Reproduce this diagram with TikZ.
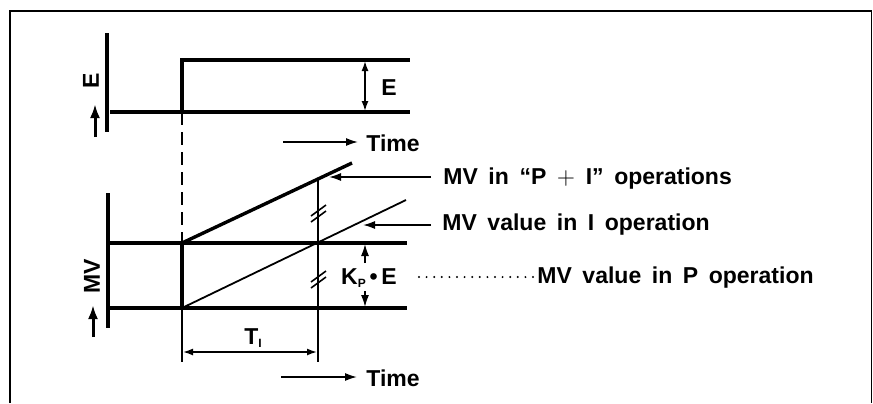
\documentclass[tikz,border=0pt]{standalone}
\usepackage{fontspec}
\setmainfont{Liberation Sans}
\usetikzlibrary{arrows.meta}

\newcommand{\tinysub}[1]{\raisebox{-0.3ex}{\fontsize{6}{6}\selectfont #1}}

\begin{document}
\begin{tikzpicture}[
  x=0.5pt, y=-0.5pt,
  font=\bfseries\fontsize{11.5}{13}\selectfont,
  frame/.style={line width=1.4pt},
  thinline/.style={line width=0.9pt},
  thickline/.style={line width=1.7pt},
  arrow/.style={-{Latex[length=6pt,width=4pt]}, line width=0.8pt},
  uparrow/.style={-{Latex[length=7pt,width=5pt]}, line width=1.5pt},
  dim/.style={{Latex[length=5pt,width=3.5pt]}-{Latex[length=5pt,width=3.5pt]}, line width=0.8pt},
  brk/.style={line width=0.8pt},
  lbl/.style={anchor=west, inner sep=0pt, execute at begin node={\spaceskip=0.46em\relax}}
]
\useasboundingbox (0,0) rectangle (873,403);

% frame, open at the bottom
\draw[frame] (10,403) -- (10,11) -- (871.5,11);
\draw[line width=0.6pt] (871.5,11) -- (871.5,403);

% ---- deviation E (step input)
\draw[thickline] (107,33) -- (107,132);
\draw[uparrow] (95,137) -- (95,104);
\node[rotate=90, inner sep=0pt] (elabel) at (91,81) {E};
\coordinate (e0) at (110,112);
\coordinate (estep) at (182,112);
\coordinate (etop) at (182,60);
\draw[thickline] (e0) -- (410,112);
\draw[thickline] (estep) -- (etop) -- (410,60);
\draw[dim] (365,61) -- (365,111);
\node[inner sep=0pt] (eval) at (389,88) {E};
\draw[arrow] (283,142) -- (358,142);
\node[lbl] (time1) at (366,143) {Time};

% ---- manipulated value MV
\draw[thickline] (108,193) -- (108,328);
\draw[uparrow] (93,337) -- (93,305);
\node[rotate=90, inner sep=0pt] (mvlabel) at (92,276) {MV};
\coordinate (mvhi) at (182,243);
\coordinate (mvlo) at (182,308);
\draw[line width=1pt, dash pattern=on 6.5pt off 3.5pt] (estep) -- (mvhi);
\draw[thickline] (110,243) -- (407,243);
\draw[thickline] (110,308) -- (407,308);
\draw[thickline] (mvlo) -- (mvhi);
\draw[thickline] (mvhi) -- (352,163);
\draw[thinline] (mvlo) -- (406,200);
\draw[thinline] (mvlo) -- (182,362);
\draw[thinline] (318,179) -- (318,362);
% break marks
\draw[brk] (311,216) -- (326,205) (311,222) -- (326,211);
\draw[brk] (311,282) -- (326,271) (311,288) -- (326,277);

% K_P . E step
\draw[arrow] (365,263) -- (365,244);
\draw[arrow] (365,291) -- (365,307);
\node[inner sep=0pt] (kpe) at (369,278) {K\tinysub{P}\,\textbullet\,E};
\draw[line width=1.1pt, line cap=round, dash pattern=on 0pt off 3.8pt] (419,277) -- (534,277);

% integral time
\draw[dim] (183,352) -- (317,352);
\node[inner sep=0pt] (ti) at (253,338) {T\tinysub{I}};
\draw[arrow] (281,377) -- (357,377);
\node[lbl] (time2) at (366,378) {Time};

% callouts
\draw[arrow] (431,177) -- (329,177);
\node[lbl] (pilabel) at (443,179) {MV in ``P $+$ I'' operations};
\draw[arrow] (431,225) -- (363,225);
\node[lbl] (ilabel) at (442,225) {MV value in I operation};
\node[lbl] (plabel) at (537,278) {MV value in P operation};
\end{tikzpicture}
\end{document}
